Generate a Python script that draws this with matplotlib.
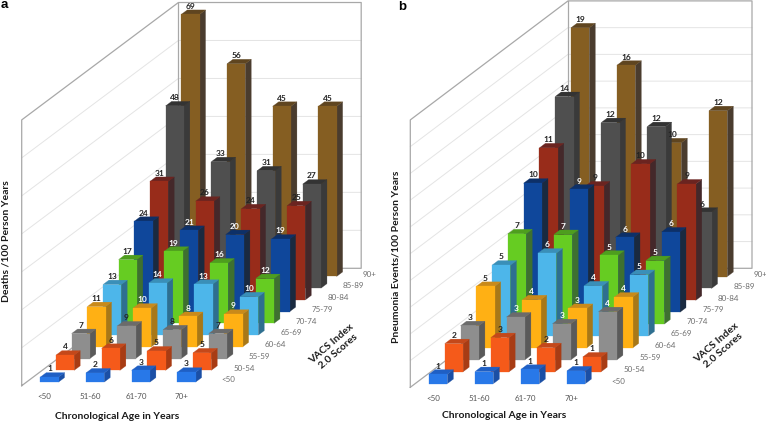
import matplotlib
matplotlib.use("Agg")
import matplotlib.pyplot as plt
from matplotlib.patches import Polygon

age_labels = ["<50", "51-60", "61-70", "70+"]
vacs_labels = ["<50", "50-54", "55-59", "60-64", "65-69", "70-74", "75-79", "80-84", "85-89", "90+"]

deaths = [
    [1.3, 2.4, 3.1, 2.6],
    [4.0, 5.8, 5.1, 4.6],
    [6.6, 8.6, 7.6, 6.6],
    [10.6, 10.2, 8.0, 8.6],
    [13.3, 13.7, 13.4, 10.1],
    [16.8, 19.0, 15.9, 11.8],
    [23.8, 21.4, 20.3, 19.1],
    [31.2, 26.0, 24.0, 24.8],
    [48.0, 33.3, 30.9, 27.4],
    [69.0, 56.0, 44.8, 44.8],
]
pneumonia = [
    [0.7, 0.9, 1.07, 0.95],
    [2.1, 2.55, 1.8, 1.1],
    [2.55, 3.2, 2.7, 3.6],
    [4.6, 3.6, 2.95, 3.8],
    [5.3, 6.2, 3.75, 4.6],
    [6.75, 6.7, 5.15, 4.75],
    [9.65, 9.2, 5.6, 6.0],
    [11.4, 8.55, 10.2, 8.7],
    [14.35, 12.4, 12.1, 5.7],
    [18.6, 15.8, 10.0, 12.4],
]

front_colors = ["#2878E8", "#F55A1A", "#8E8E8E", "#FFB014", "#4DB6EA",
                "#66CC22", "#0F479B", "#982C1A", "#4F4F4F", "#855E22"]
top_colors = ["#1F5FC4", "#C4481A", "#6B6B6B", "#C98A1A", "#3A8FB8",
              "#4E9E1E", "#0D3068", "#6B2420", "#333333", "#5F4520"]
side_colors = ["#1B4FA5", "#A83C14", "#5A5A5A", "#A87818", "#2E6F90",
               "#3E7030", "#1A2A40", "#44282A", "#3A3A3A", "#4A3C2E"]

label_dark = "#222222"
white_a = {(3, 1), (3, 2), (3, 3), (4, 1), (4, 2), (4, 3), (5, 1), (5, 2), (5, 3), (6, 1), (6, 2), (6, 3)}
white_b = white_a | {(2, 1), (2, 2), (2, 3)}

fig = plt.figure(figsize=(7.66, 4.23), dpi=100)
ax = fig.add_axes([0, 0, 1, 1])
ax.set_xlim(0, 766)
ax.set_ylim(423, 0)
ax.axis("off")

FONT = "Lato"


def draw_panel(values, white, ox, oy, ustep, vstep_x, vstep_y, unit, grid_every, n_grid,
               ylabel, ylabel_xy, letter, letter_xy, xlabel_xy, vacs_xy):
    def proj(u, v, h=0.0):
        return (ox + ustep * u + vstep_x * v, oy - vstep_y * v - unit * h)

    # walls
    wall_h = grid_every * n_grid
    wall = "#A8A8A8"
    for k in range(1, n_grid):
        h = grid_every * k
        ax.plot(*zip(proj(0, 0, h), proj(0, 10, h), proj(4, 10, h)), color="#E4E4E4", lw=0.7, zorder=1)
    ax.plot(*zip(proj(0, 0, 0), proj(0, 10, 0), proj(4, 10, 0), proj(4, 10, wall_h),
                 proj(0, 10, wall_h), proj(0, 0, wall_h), proj(0, 0, 0)),
            color=wall, lw=0.9, zorder=1.5)
    ax.plot(*zip(proj(0, 10, 0), proj(0, 10, wall_h)), color=wall, lw=0.9, zorder=1.5)

    w = 0.40
    d = 0.38
    z = 2.0
    for r in range(len(vacs_labels) - 1, -1, -1):
        for c in range(len(age_labels)):
            val = values[r][c]
            u0, u1 = c + 0.5 - w / 2, c + 0.5 + w / 2
            v0, v1 = r + 0.5 - d / 2, r + 0.5 + d / 2
            faces = [
                ([proj(u1, v0), proj(u1, v1), proj(u1, v1, val), proj(u1, v0, val)], side_colors[r]),
                ([proj(u0, v0, val), proj(u1, v0, val), proj(u1, v1, val), proj(u0, v1, val)], top_colors[r]),
                ([proj(u0, v0), proj(u1, v0), proj(u1, v0, val), proj(u0, v0, val)], front_colors[r]),
            ]
            for pts, col in faces:
                ax.add_patch(Polygon(pts, closed=True, facecolor=col, edgecolor=col, lw=0.2, zorder=z))
            z += 0.01
            lx, ly = proj(c + 0.5, v0, val)
            ax.text(lx, ly - 8.2, str(int(round(val))), ha="center", va="center", fontsize=6.0,
                    family=FONT, fontweight="bold",
                    color="white" if (r, c) in white else label_dark, zorder=10)

    for c, lab in enumerate(age_labels):
        x, y = proj(c + 0.5, 0)
        ax.text(x, y + 11, lab, ha="center", va="center", fontsize=5.8, family=FONT, color="#555555", zorder=10)
    for r, lab in enumerate(vacs_labels):
        x, y = proj(4.35, r + 0.5)
        ax.text(x, y, lab, ha="center", va="center", fontsize=5.8, family=FONT, color="#6E6E6E", zorder=10)

    ax.text(*xlabel_xy, "Chronological Age in Years", ha="center", va="center", fontsize=7.5,
            family=FONT, fontweight="bold", color="#1A1A1A")
    ax.text(*ylabel_xy, ylabel, ha="center", va="center", rotation=90, fontsize=7.5,
            family=FONT, fontweight="bold", color="#1A1A1A")
    ax.text(*vacs_xy, "VACS Index\n2.0 Scores", ha="center", va="center", rotation=41, fontsize=7.5,
            family=FONT, fontweight="bold", color="#1A1A1A", linespacing=1.1, rotation_mode="anchor")
    ax.text(*letter_xy, letter, ha="center", va="center", fontsize=9.5,
            family="Liberation Sans", fontweight="bold", color="black")


draw_panel(deaths, white_a, 21.7, 385.7, 45.7, 15.67, 11.74, 3.797, 10, 7,
           "Deaths /100 Person Years", (6.5, 241), "a", (4, 5), (117, 416.5), (335, 348))
draw_panel(pneumonia, white_b, 410.3, 387.3, 46.0, 15.77, 11.9, 13.37, 2, 10,
           "Pneumonia Events/100 Person Years", (396, 257), "b", (402, 7), (504, 415), (720, 347))

fig.savefig("out.png", dpi=100)
